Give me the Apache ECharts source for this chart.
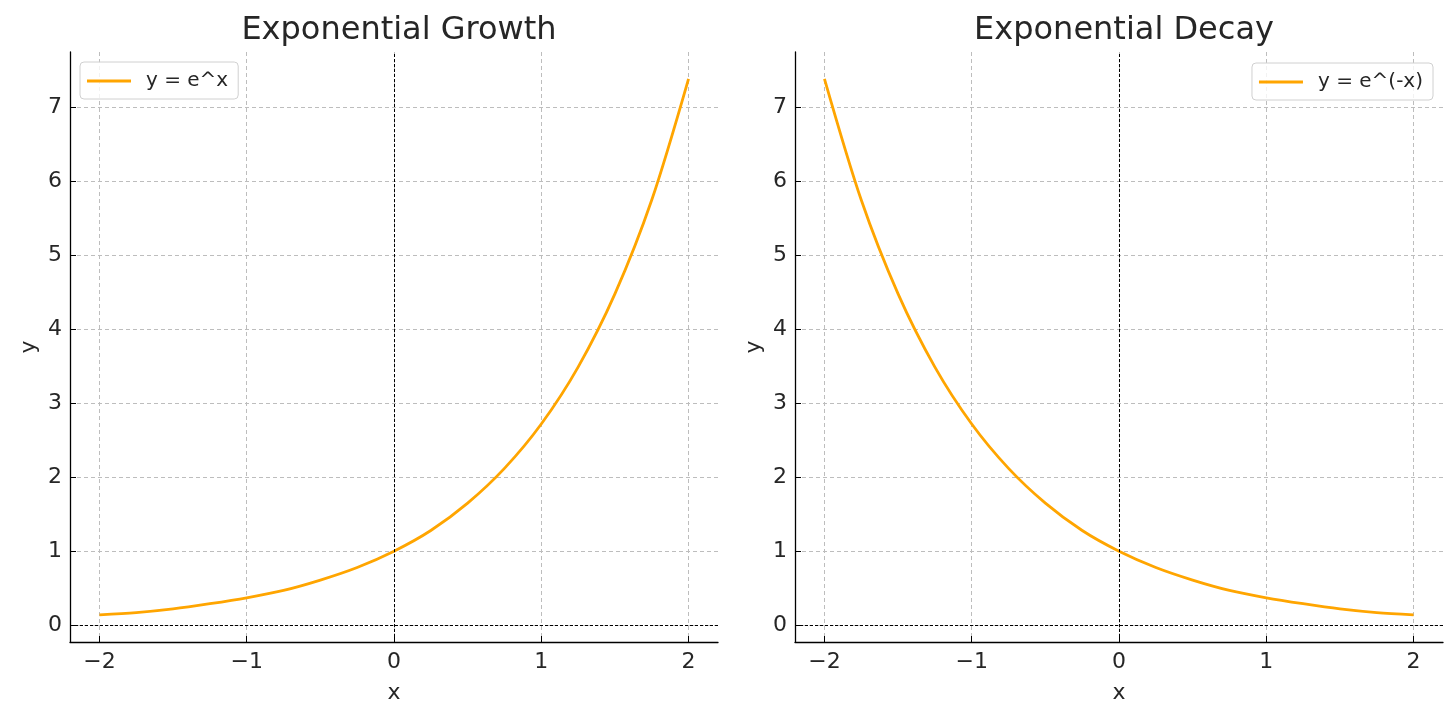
<!DOCTYPE html>
<html>
<head>
<meta charset="utf-8">
<script src="https://cdn.jsdelivr.net/npm/echarts@6/dist/echarts.min.js"></script>
<style>
  html, body { margin: 0; padding: 0; background: #fff; }
  #chart { width: 1456px; height: 721px; }
</style>
</head>
<body>
<div id="chart"></div>
<script>
(function () {
  'use strict';

  // sampled x positions (shared by both panels)
  const xs = [-2, -1.75, -1.5, -1.25, -1, -0.75, -0.5, -0.25, 0, 0.25, 0.5, 0.75, 1, 1.25, 1.5, 1.75, 2];
  // y = e^x
  const growthY = [0.14, 0.17, 0.22, 0.29, 0.37, 0.47, 0.61, 0.78, 1.00, 1.28, 1.65, 2.12, 2.72, 3.49, 4.48, 5.75, 7.39];
  // y = e^(-x)
  const decayY = [7.39, 5.75, 4.48, 3.49, 2.72, 2.12, 1.65, 1.28, 1.00, 0.78, 0.61, 0.47, 0.37, 0.29, 0.22, 0.17, 0.14];

  const xTicks = [-2, -1, 0, 1, 2];
  const yTicks = [0, 1, 2, 3, 4, 5, 6, 7];
  const titles = ['Exponential Growth', 'Exponential Decay'];
  const names = ['y = e^x', 'y = e^(-x)'];

  const FONT = 'DejaVu Sans';
  const TXT = '#262626';
  const ORANGE = '#FFA500';

  const chart = echarts.init(document.getElementById('chart'));

  const grids = [
    { left: 70, top: 52, width: 648, height: 590 },
    { left: 795, top: 52, width: 648, height: 590 }
  ];

  function minus(v) { return String(v).replace('-', '\u2212'); }

  function xAxis(i) {
    return {
      type: 'value', gridIndex: i, min: -2.2, max: 2.2,
      name: 'x', nameLocation: 'middle', nameGap: 40,
      nameTextStyle: { fontFamily: FONT, fontSize: 22, color: TXT },
      axisLine: { show: true, onZero: false, lineStyle: { color: '#000', width: 1.3 } },
      axisTick: { show: true, inside: true, customValues: xTicks, length: 6, lineStyle: { color: '#000', width: 1 } },
      axisLabel: { customValues: xTicks, formatter: minus, fontFamily: FONT, fontSize: 22, color: TXT, margin: 9 },
      splitLine: { show: true, lineStyle: { color: '#bdbdbd', type: [4, 3], width: 1 } }
    };
  }

  function yAxis(i) {
    return {
      type: 'value', gridIndex: i, min: -0.228, max: 7.752,
      name: 'y', nameLocation: 'middle', nameGap: 30, nameRotate: 90,
      nameTextStyle: { fontFamily: FONT, fontSize: 22, color: TXT },
      axisLine: { show: true, onZero: false, lineStyle: { color: '#000', width: 1.3 } },
      axisTick: { show: true, inside: true, customValues: yTicks, length: 6, lineStyle: { color: '#000', width: 1 } },
      axisLabel: { customValues: yTicks, formatter: minus, fontFamily: FONT, fontSize: 22, color: TXT, margin: 8 },
      splitLine: { show: true, lineStyle: { color: '#bdbdbd', type: [4, 3], width: 1 } }
    };
  }

  function series(i, ys) {
    return {
      name: names[i], type: 'line', xAxisIndex: i, yAxisIndex: i,
      data: xs.map((x, k) => [x, ys[k]]),
      smooth: 0.3, symbol: 'none',
      lineStyle: { color: ORANGE, width: 2.8 },
      itemStyle: { color: ORANGE },
      markLine: {
        silent: true, symbol: 'none', label: { show: false },
        lineStyle: { color: '#000', type: [3, 2], width: 1 },
        data: [{ xAxis: 0 }, { yAxis: 0 }]
      }
    };
  }

  const legendBase = {
    orient: 'vertical', itemWidth: 44, itemHeight: 3, icon: 'rect',
    itemGap: 6, padding: [9, 10, 8, 7],
    borderColor: '#d0d0d0', borderWidth: 1, borderRadius: 4,
    backgroundColor: 'rgba(255,255,255,0.8)',
    textStyle: { fontFamily: FONT, fontSize: 20, color: TXT, padding: [0, 0, 0, 10] }
  };

  chart.setOption({
    animation: false,
    title: titles.map((t, i) => ({
      text: t, left: grids[i].left + grids[i].width / 2, top: 10, textAlign: 'center',
      textStyle: { fontFamily: FONT, fontSize: 32, fontWeight: 'normal', color: TXT }
    })),
    legend: [
      Object.assign({}, legendBase, { data: [names[0]], left: 80, top: 62 }),
      Object.assign({}, legendBase, { data: [names[1]], right: 23, top: 63 })
    ],
    grid: grids,
    xAxis: [xAxis(0), xAxis(1)],
    yAxis: [yAxis(0), yAxis(1)],
    series: [series(0, growthY), series(1, decayY)]
  });

  window.addEventListener('resize', () => chart.resize());
})();
</script>
</body>
</html>
